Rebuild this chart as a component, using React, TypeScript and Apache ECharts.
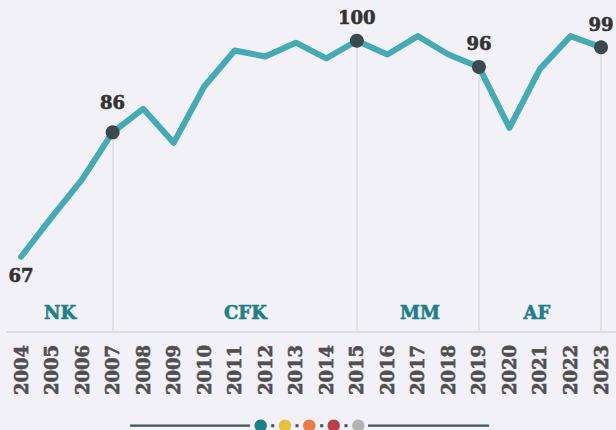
import React, { useEffect, useRef } from "react";
import * as echarts from "echarts";

const years: number[] = [2004, 2005, 2006, 2007, 2008, 2009, 2010, 2011, 2012, 2013, 2014, 2015, 2016, 2017, 2018, 2019, 2020, 2021, 2022, 2023];
const values: number[] = [67, 73, 78.8, 86, 89.6, 84.4, 93, 98.5, 97.6, 99.7, 97.3, 100, 97.9, 100.7, 97.9, 96, 86.7, 95.7, 100.7, 99];
const highlightYears: number[] = [2007, 2015, 2019, 2023];
const labelYears: number[] = [2004, 2007, 2015, 2019, 2023];
const periodNames: string[] = ["NK", "CFK", "MM", "AF"];
const periodCenters: number[] = [2005.28, 2011.35, 2017.07, 2020.9];
const footerColors: string[] = ["#1e7f86", "#e8c13a", "#e87b4a", "#b9404a", "#b3b3b3"];

const Y_MIN = 55.5;
const Y_MAX = 105;
const PERIOD_Y = 58.5;
const BG = "#f2f1f7";
const FONT = "'DejaVu Serif', serif";

export default function App() {
  const ref = useRef<HTMLDivElement>(null);
  useEffect(() => {
    if (!ref.current) return;
    const chart = echarts.init(ref.current, null, { renderer: "svg" });

    const lineData = years.map((y, i) => {
      const isHi = highlightYears.includes(y);
      const hasLabel = labelYears.includes(y);
      const item: any = {
        value: [y, values[i]],
        symbolSize: isHi ? 14 : 0,
      };
      if (hasLabel) {
        const below = y === 2004;
        item.label = {
          show: true,
          position: below ? "bottom" : "top",
          distance: below ? 10 : y === 2007 ? 14 : 7,
          formatter: () => String(Math.round(values[i])),
          fontFamily: FONT,
          fontWeight: "bold",
          fontSize: 18,
          color: "#333333",
          textBorderColor: "#333333",
          textBorderWidth: 0.6,
        };
      }
      return item;
    });

    const markLines = highlightYears.map((y) => {
      const v = values[years.indexOf(y)];
      return [{ coord: [y, v] }, { coord: [y, Y_MIN] }];
    });

    const footerY = 425.7;
    const dotXs = [260.7, 285, 309.3, 333.7, 358.3];
    const sqXs = [272.7, 297, 321.7, 346];
    const graphics: any[] = [
      { type: "line", shape: { x1: 130, y1: footerY, x2: 250, y2: footerY }, style: { stroke: "#3f5456", lineWidth: 2.2 } },
      { type: "line", shape: { x1: 368, y1: footerY, x2: 489, y2: footerY }, style: { stroke: "#3f5456", lineWidth: 2.2 } },
      ...dotXs.map((x, i) => ({ type: "circle", shape: { cx: x, cy: footerY, r: 6.2 }, style: { fill: footerColors[i] } })),
      ...sqXs.map((x) => ({ type: "rect", shape: { x: x - 1.5, y: footerY - 1.5, width: 3, height: 3 }, style: { fill: "#3f5456" } })),
    ];

    chart.setOption({
      animation: false,
      backgroundColor: BG,
      grid: { left: 7, right: 0, top: 8, bottom: 98, containLabel: false },
      xAxis: {
        type: "value",
        min: 2003.54,
        max: 2023.49,
        axisLine: { show: true, lineStyle: { color: "#dcdcdc", width: 2 } },
        axisTick: { show: false },
        splitLine: { show: false },
        axisLabel: {
          customValues: years,
          rotate: 90,
          margin: 13,
          fontFamily: FONT,
          fontWeight: "bold",
          fontSize: 18,
          color: "#4f4f4f",
          textBorderColor: "#4f4f4f",
          textBorderWidth: 0.6,
          formatter: (v: number) => String(Math.round(v)),
        },
      },
      yAxis: {
        type: "value",
        min: Y_MIN,
        max: Y_MAX,
        show: false,
        splitLine: { show: false },
      },
      series: [
        {
          type: "line",
          data: lineData,
          symbol: "circle",
          showAllSymbol: true,
          itemStyle: { color: "#3a4a4f" },
          lineStyle: { color: "#45aab3", width: 6, cap: "round", join: "round" },
          z: 3,
          markLine: {
            silent: true,
            symbol: "none",
            label: { show: false },
            lineStyle: { color: "#dcdcdc", width: 1.5, type: "solid" },
            data: markLines,
            z: 1,
          },
        },
        {
          type: "scatter",
          symbolSize: 0,
          itemStyle: { opacity: 1, color: "#1e7f86" },
          data: periodNames.map((n, i) => ({ value: [periodCenters[i], PERIOD_Y], name: n })),
          label: {
            show: true,
            position: "inside",
            formatter: (p: any) => p.name,
            fontFamily: FONT,
            fontWeight: "bold",
            fontSize: 18,
            color: "#1e7f86",
            textBorderColor: "#1e7f86",
            textBorderWidth: 0.6,
            opacity: 1,
          },
          z: 2,
        },
      ],
      graphic: graphics,
    });
    return () => chart.dispose();
  }, []);
  return <div ref={ref} style={{ width: 616, height: 430, position: "absolute", left: 0, top: 0 }} />;
}
